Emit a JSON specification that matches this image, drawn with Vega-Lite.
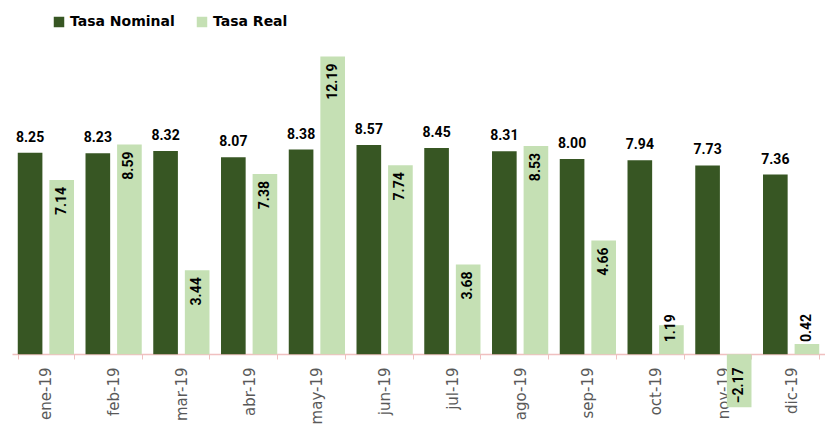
{
  "$schema": "https://vega.github.io/schema/vega-lite/v6.json",
  "width": 813,
  "height": 359,
  "autosize": {"type": "none"},
  "padding": {"left": 12, "top": 49, "right": 0, "bottom": 21},
  "background": "white",
  "config": {"view": {"stroke": null}},
  "data": {
    "values": [
      {"mes": "ene-19", "serie": "Tasa Nominal", "valor": 8.25},
      {"mes": "ene-19", "serie": "Tasa Real", "valor": 7.14},
      {"mes": "feb-19", "serie": "Tasa Nominal", "valor": 8.23},
      {"mes": "feb-19", "serie": "Tasa Real", "valor": 8.59},
      {"mes": "mar-19", "serie": "Tasa Nominal", "valor": 8.32},
      {"mes": "mar-19", "serie": "Tasa Real", "valor": 3.44},
      {"mes": "abr-19", "serie": "Tasa Nominal", "valor": 8.07},
      {"mes": "abr-19", "serie": "Tasa Real", "valor": 7.38},
      {"mes": "may-19", "serie": "Tasa Nominal", "valor": 8.38},
      {"mes": "may-19", "serie": "Tasa Real", "valor": 12.19},
      {"mes": "jun-19", "serie": "Tasa Nominal", "valor": 8.57},
      {"mes": "jun-19", "serie": "Tasa Real", "valor": 7.74},
      {"mes": "jul-19", "serie": "Tasa Nominal", "valor": 8.45},
      {"mes": "jul-19", "serie": "Tasa Real", "valor": 3.68},
      {"mes": "ago-19", "serie": "Tasa Nominal", "valor": 8.31},
      {"mes": "ago-19", "serie": "Tasa Real", "valor": 8.53},
      {"mes": "sep-19", "serie": "Tasa Nominal", "valor": 8.00},
      {"mes": "sep-19", "serie": "Tasa Real", "valor": 4.66},
      {"mes": "oct-19", "serie": "Tasa Nominal", "valor": 7.94},
      {"mes": "oct-19", "serie": "Tasa Real", "valor": 1.19},
      {"mes": "nov-19", "serie": "Tasa Nominal", "valor": 7.73},
      {"mes": "nov-19", "serie": "Tasa Real", "valor": -2.17},
      {"mes": "dic-19", "serie": "Tasa Nominal", "valor": 7.36},
      {"mes": "dic-19", "serie": "Tasa Real", "valor": 0.42}
    ]
  },
  "encoding": {
    "x": {
      "field": "mes",
      "type": "nominal",
      "sort": null,
      "scale": {"paddingInner": 0.17, "paddingOuter": 0.085},
      "axis": {
        "title": null,
        "offset": -54,
        "domainColor": "#f0c0c0",
        "domainWidth": 1.5,
        "tickColor": "#f0c0c0",
        "tickBand": "extent",
        "tickSize": 5,
        "labelAngle": 270,
        "labelPadding": 8,
        "labelFont": "DejaVu Sans",
        "labelFontSize": 15,
        "labelColor": "#595959"
      }
    },
    "xOffset": {
      "field": "serie",
      "type": "nominal",
      "scale": {"paddingInner": 0.22, "paddingOuter": 0}
    },
    "y": {
      "field": "valor",
      "type": "quantitative",
      "scale": {"domain": [-2.2, 12.5], "nice": false, "zero": false},
      "axis": null
    }
  },
  "layer": [
    {
      "mark": {"type": "bar"},
      "encoding": {
        "color": {
          "field": "serie",
          "type": "nominal",
          "scale": {"domain": ["Tasa Nominal", "Tasa Real"], "range": ["#375623", "#c5e0b4"]},
          "legend": {
            "title": null,
            "orient": "none",
            "direction": "horizontal",
            "legendX": 40,
            "legendY": -34,
            "symbolType": "square",
            "symbolSize": 110,
            "symbolStrokeWidth": 0,
            "labelFont": "DejaVu Sans",
            "labelFontWeight": "bold",
            "labelFontSize": 14,
            "labelColor": "#000000",
            "columnPadding": 20,
            "labelOffset": 4
          }
        }
      }
    },
    {
      "transform": [{"filter": "datum.serie == 'Tasa Nominal'"}],
      "mark": {"type": "text", "baseline": "bottom", "dy": -8, "font": "Roboto", "fontWeight": "bold", "fontSize": 14, "color": "#000000"},
      "encoding": {"text": {"field": "valor", "type": "quantitative", "format": ".2f"}}
    },
    {
      "transform": [{"filter": "datum.serie == 'Tasa Real' && datum.valor >= 2"}],
      "mark": {"type": "text", "angle": 270, "align": "right", "baseline": "middle", "dx": -7, "font": "Roboto", "fontWeight": "bold", "fontSize": 14, "color": "#000000"},
      "encoding": {"text": {"field": "valor", "type": "quantitative", "format": ".2f"}}
    },
    {
      "transform": [{"filter": "datum.serie == 'Tasa Real' && datum.valor >= 1 && datum.valor < 2"}],
      "mark": {"type": "text", "angle": 270, "align": "center", "baseline": "middle", "dx": -3, "font": "Roboto", "fontWeight": "bold", "fontSize": 14, "color": "#000000"},
      "encoding": {"text": {"field": "valor", "type": "quantitative", "format": ".2f"}}
    },
    {
      "transform": [{"filter": "datum.serie == 'Tasa Real' && datum.valor >= 0 && datum.valor < 1"}],
      "mark": {"type": "text", "angle": 270, "align": "left", "baseline": "middle", "dx": 2, "font": "Roboto", "fontWeight": "bold", "fontSize": 14, "color": "#000000"},
      "encoding": {"text": {"field": "valor", "type": "quantitative", "format": ".2f"}}
    },
    {
      "transform": [{"filter": "datum.serie == 'Tasa Real' && datum.valor < 0"}],
      "mark": {"type": "text", "angle": 270, "align": "left", "baseline": "middle", "dx": 4, "font": "Roboto", "fontWeight": "bold", "fontSize": 14, "color": "#000000"},
      "encoding": {"text": {"field": "valor", "type": "quantitative", "format": ".2f"}}
    }
  ]
}
